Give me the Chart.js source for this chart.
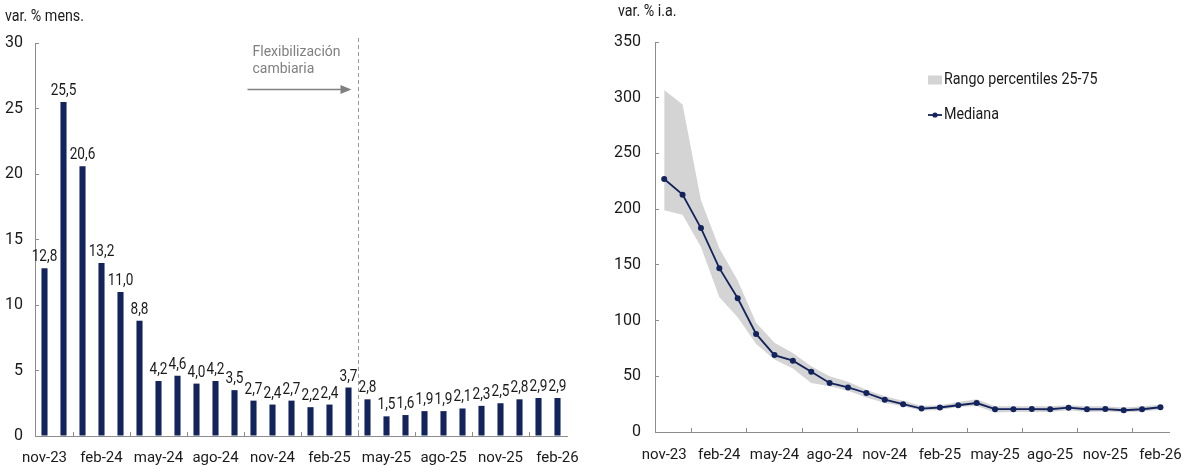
<!DOCTYPE html>
<html lang="es">
<head>
<meta charset="utf-8">
<title>Inflación mensual e interanual</title>
<script src="https://cdn.jsdelivr.net/npm/chart.js@4.4.1/dist/chart.umd.min.js"></script>
<style>
  html, body { margin: 0; padding: 0; background: #ffffff; }
  #wrap { position: relative; width: 1200px; height: 470px; overflow: hidden; }
  canvas { position: absolute; top: 0; }
  #c1 { left: 0; }
  #c2 { left: 600px; }
</style>
</head>
<body>
<div id="wrap">
  <canvas id="c1" width="600" height="470"></canvas>
  <canvas id="c2" width="600" height="470"></canvas>
</div>
<script>
// ---------- DATA ----------
const months = ['nov-23','dic-23','ene-24','feb-24','mar-24','abr-24','may-24','jun-24','jul-24','ago-24',
  'sep-24','oct-24','nov-24','dic-24','ene-25','feb-25','mar-25','abr-25','may-25','jun-25','jul-25',
  'ago-25','sep-25','oct-25','nov-25','dic-25','ene-26','feb-26'];

const monthlyVar = [12.8, 25.5, 20.6, 13.2, 11.0, 8.8, 4.2, 4.6, 4.0, 4.2, 3.5, 2.7, 2.4, 2.7, 2.2, 2.4,
  3.7, 2.8, 1.5, 1.6, 1.9, 1.9, 2.1, 2.3, 2.5, 2.8, 2.9, 2.9];

const median = [227, 213, 183, 147, 120, 88, 69, 64, 54, 44, 40, 35, 29, 25, 21, 22, 24, 26,
  20.5, 20.5, 20.6, 20.4, 21.8, 20.4, 20.6, 19.5, 20.4, 22.2];
const p75 = [307, 294, 208, 165, 136, 98, 80, 71, 59, 50, 45, 38, 32, 28, 23.5, 24, 27, 29.5,
  23, 23, 23, 23, 24, 23, 23, 22, 23, 24.5];
const p25 = [199, 195, 166, 121, 103, 79, 65, 57, 44, 41, 37, 31, 26, 23, 19, 19.7, 22.5, 23.3,
  17.5, 18, 18, 18, 19.5, 18, 18.5, 17.5, 18.5, 20];

const leftTitle = 'var. % mens.';
const rightTitle = 'var. % i.a.';
const annotationLines = ['Flexibilización', 'cambiaria'];
const annotationAfterIndex = 16; // dashed line between mar-25 and abr-25
const bandLabel = 'Rango percentiles 25-75';
const medianLabel = 'Mediana';

// ---------- STYLE ----------
const FONT = "Roboto, 'Liberation Sans', sans-serif";
const NAVY = '#13235b';
const AXIS = '#8c8c8c';
const TEXT = '#1a1a1a';
const NARROW = 0.84;

function fmt(v) { return v.toFixed(1).replace('.', ','); }

// draws text horizontally condensed (the source uses a narrow typeface)
function narrowText(ctx, text, x, y, sx) {
  ctx.save();
  ctx.translate(x, y);
  ctx.scale(sx, 1);
  ctx.fillText(text, 0, 0);
  ctx.restore();
}

function xAxis(pad, height) {
  return {
    type: 'category',
    offset: true,
    grid: { display: true, drawOnChartArea: false, drawTicks: true, tickLength: -4, color: AXIS, offset: true },
    border: { display: true, color: AXIS, width: 1 },
    ticks: {
      autoSkip: false, maxRotation: 0, minRotation: 0, padding: pad,
      color: TEXT, font: { family: FONT, size: 15 },
      callback: function (val, idx) { return idx % 3 === 0 ? months[idx] : null; }
    },
    afterFit: function (s) { s.height = height; }
  };
}
function yAxis(max, step, pad, width) {
  return {
    min: 0, max: max,
    grid: { display: true, drawOnChartArea: false, drawTicks: true, tickLength: -4, color: AXIS },
    border: { display: true, color: AXIS, width: 1 },
    ticks: { stepSize: step, padding: pad, color: TEXT, font: { family: FONT, size: 16 } },
    afterFit: function (s) { s.width = width; }
  };
}

// ---------- LEFT CHART ----------
const leftPlugin = {
  id: 'leftExtras',
  afterDatasetsDraw(chart) {
    const ctx = chart.ctx;
    const meta = chart.getDatasetMeta(0);
    ctx.save();
    ctx.fillStyle = TEXT;
    ctx.font = '17px ' + FONT;
    ctx.textAlign = 'center';
    ctx.textBaseline = 'alphabetic';
    meta.data.forEach(function (bar, i) {
      narrowText(ctx, fmt(monthlyVar[i]), bar.x, bar.y - 7, 0.8);
    });
    ctx.restore();
  },
  afterDraw(chart) {
    const ctx = chart.ctx;
    const xs = chart.scales.x;
    const area = chart.chartArea;
    const xd = Math.round((xs.getPixelForValue(annotationAfterIndex) + xs.getPixelForValue(annotationAfterIndex + 1)) / 2) + 0.5;
    ctx.save();
    // title
    ctx.fillStyle = TEXT;
    ctx.font = '17px ' + FONT;
    ctx.textAlign = 'left';
    ctx.textBaseline = 'middle';
    narrowText(ctx, leftTitle, 5, 17, NARROW);
    // dashed line
    ctx.strokeStyle = '#9a9a9a';
    ctx.lineWidth = 1;
    ctx.setLineDash([4, 3]);
    ctx.beginPath();
    ctx.moveTo(xd, area.top - 5);
    ctx.lineTo(xd, area.bottom);
    ctx.stroke();
    ctx.setLineDash([]);
    // annotation text
    ctx.fillStyle = '#7f7f7f';
    ctx.font = '14px ' + FONT;
    ctx.fillText(annotationLines[0], xd - 106, area.top + 9);
    ctx.fillText(annotationLines[1], xd - 106, area.top + 26);
    // arrow
    const ay = area.top + 46.5;
    ctx.strokeStyle = '#808080';
    ctx.lineWidth = 1.3;
    ctx.beginPath();
    ctx.moveTo(xd - 111, ay);
    ctx.lineTo(xd - 16, ay);
    ctx.stroke();
    ctx.fillStyle = '#808080';
    ctx.beginPath();
    ctx.moveTo(xd - 7, ay);
    ctx.lineTo(xd - 18, ay - 4.5);
    ctx.lineTo(xd - 18, ay + 4.5);
    ctx.closePath();
    ctx.fill();
    ctx.restore();
  }
};

new Chart(document.getElementById('c1'), {
  type: 'bar',
  data: {
    labels: months,
    datasets: [{
      label: leftTitle,
      data: monthlyVar,
      backgroundColor: NAVY,
      borderWidth: 0,
      barPercentage: 0.32,
      categoryPercentage: 1.0
    }]
  },
  options: {
    responsive: false,
    animation: false,
    layout: { padding: { left: 0, top: 43, right: 33, bottom: 0 } },
    plugins: { legend: { display: false }, tooltip: { enabled: false } },
    scales: {
      x: xAxis(17, 34),
      y: yAxis(30, 5, 16, 35)
    }
  },
  plugins: [leftPlugin]
});

// ---------- RIGHT CHART ----------
const rightPlugin = {
  id: 'rightExtras',
  afterDraw(chart) {
    const ctx = chart.ctx;
    const area = chart.chartArea;
    ctx.save();
    ctx.fillStyle = TEXT;
    ctx.font = '17px ' + FONT;
    ctx.textAlign = 'left';
    ctx.textBaseline = 'middle';
    narrowText(ctx, rightTitle, 18, 12, NARROW);
    // legend
    const lx = area.left + 273;
    const ly1 = area.top + 38;
    const ly2 = area.top + 73;
    ctx.fillStyle = '#d4d4d4';
    ctx.fillRect(lx, ly1 - 4.5, 14, 9);
    ctx.strokeStyle = NAVY;
    ctx.lineWidth = 1.8;
    ctx.beginPath();
    ctx.moveTo(lx, ly2);
    ctx.lineTo(lx + 14, ly2);
    ctx.stroke();
    ctx.fillStyle = NAVY;
    ctx.beginPath();
    ctx.arc(lx + 7, ly2, 2.6, 0, Math.PI * 2);
    ctx.fill();
    ctx.fillStyle = TEXT;
    narrowText(ctx, bandLabel, lx + 16, ly1, NARROW);
    narrowText(ctx, medianLabel, lx + 16, ly2, NARROW);
    ctx.restore();
  }
};

new Chart(document.getElementById('c2'), {
  type: 'line',
  data: {
    labels: months,
    datasets: [
      { label: 'p75', data: p75, borderWidth: 0, pointRadius: 0, backgroundColor: '#d4d4d4',
        borderColor: 'rgba(0,0,0,0)', fill: '+1', order: 2, tension: 0 },
      { label: 'p25', data: p25, borderWidth: 0, pointRadius: 0, backgroundColor: '#d4d4d4',
        borderColor: 'rgba(0,0,0,0)', fill: false, order: 3, tension: 0 },
      { label: medianLabel, data: median, borderColor: NAVY, borderWidth: 1.8, tension: 0,
        pointRadius: 3, pointBackgroundColor: NAVY, pointBorderWidth: 0, fill: false, order: 1 }
    ]
  },
  options: {
    responsive: false,
    animation: false,
    layout: { padding: { left: 0, top: 42, right: 18, bottom: 0 } },
    plugins: { legend: { display: false }, tooltip: { enabled: false } },
    scales: {
      x: xAxis(18, 38),
      y: yAxis(350, 50, 18, 55)
    }
  },
  plugins: [rightPlugin]
});
</script>
</body>
</html>
